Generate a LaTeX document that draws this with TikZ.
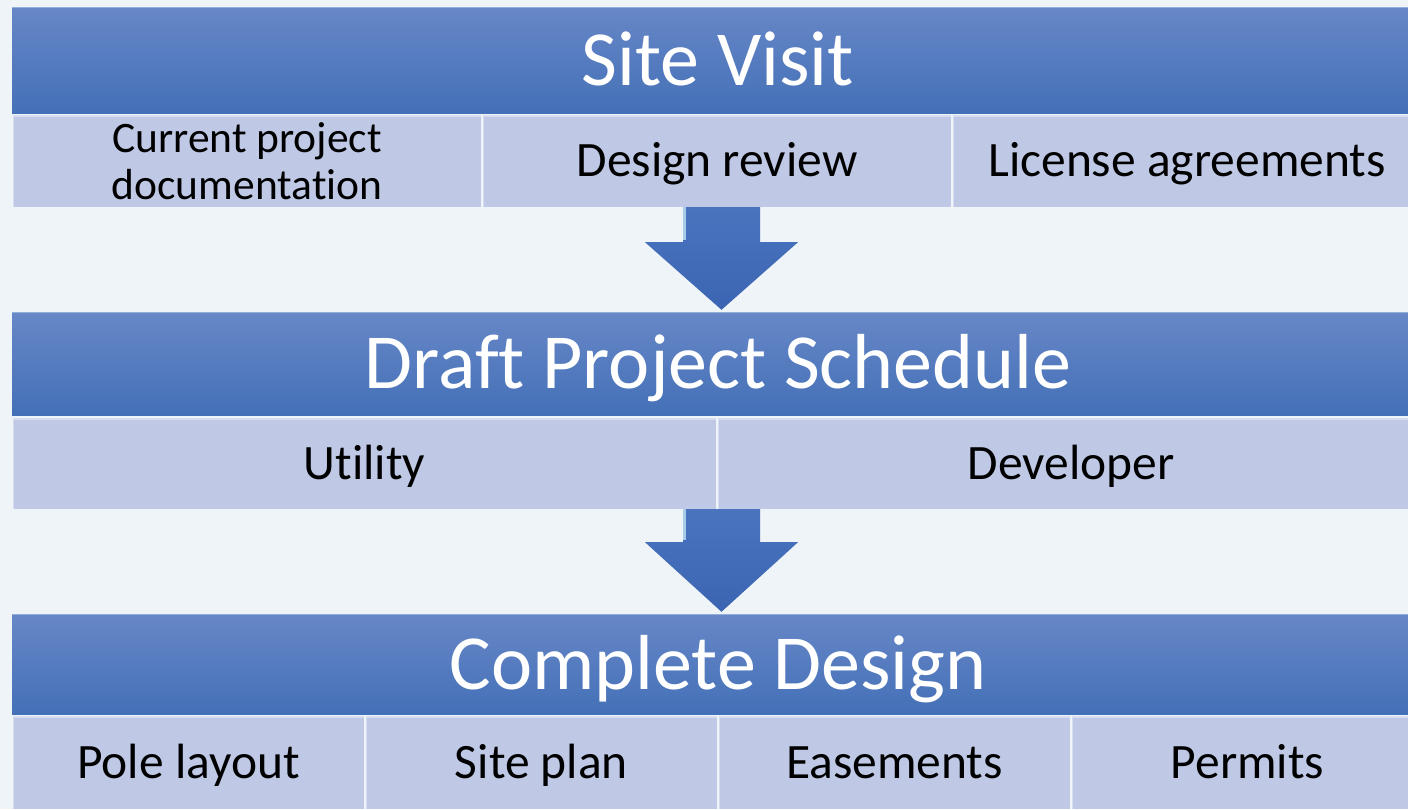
\documentclass[tikz,border=0pt]{standalone}
\usepackage{fontspec}
\setmainfont{Carlito}[Ligatures={NoCommon}, RawFeature={-liga;-clig;-dlig}]
\usetikzlibrary{calc}
\definecolor{bgc}{HTML}{EEF4F8}
\definecolor{hdtop}{HTML}{6787C7}
\definecolor{hdbot}{HTML}{4470B7}
\definecolor{hdhl}{HTML}{93AEDD}
\definecolor{cellc}{HTML}{BFC9E5}
\definecolor{cellhl}{HTML}{D6DDF0}
\definecolor{arrtop}{HTML}{4A74BE}
\definecolor{arrbot}{HTML}{3B65B2}
\definecolor{arrhl}{HTML}{A9CBEA}
\begin{document}
\begin{tikzpicture}[x=1pt,y=-1pt,
  header/.style={rectangle, draw=none, top color=hdtop, bottom color=hdbot,
    text=white, font=\fontsize{78}{90}\selectfont, text height=50pt, text depth=0pt,
    inner sep=0pt,
    path picture={\draw[hdhl, line width=2.5pt] (path picture bounding box.north west) -- (path picture bounding box.north east);}},
  cell/.style={rectangle, draw=none, fill=cellc, text=black,
    font=\fontsize{49.5}{56}\selectfont, text height=31pt, text depth=0pt, inner sep=0pt,
    path picture={\draw[cellhl, line width=3pt] (path picture bounding box.north west) -- (path picture bounding box.north east);
                  \draw[cellhl, line width=2pt] (path picture bounding box.north west) -- (path picture bounding box.south west);}},
  smallcell/.style={cell, font=\fontsize{43.5}{47}\selectfont, text height=, text depth=, align=center},
  flowarrow/.style={draw=none, top color=arrtop, bottom color=arrbot},
  arrowhl/.style={draw=arrhl, line width=2.5pt}]
\useasboundingbox (0,0) rectangle (1408,809);
\clip (0,0) rectangle (1408,809);
\fill[bgc] (0,0) rectangle (1408,809);

% Band 1
\node[header, minimum width=1412pt, minimum height=106pt] (sv) at (718,60) {Site Visit};
\node[smallcell, minimum width=468pt, minimum height=92pt] (c11) at (247,161) {Current project\\documentat\kern0pt ion};
\node[cell, minimum width=468pt, minimum height=92pt] (c12) at (717,161) {Design review};
\node[cell, minimum width=468pt, minimum height=92pt] (c13) at (1187,161) {License agreements};

% Band 2
\node[header, minimum width=1412pt, minimum height=103pt] (dps) at (718,363.5) {Draf\kern0pt t Project Schedule};
\node[cell, minimum width=703pt, minimum height=91pt] (c21) at (364.5,463.5) {Ut\kern0pt ility};
\node[cell, minimum width=706pt, minimum height=91pt] (c22) at (1071,463.5) {Developer};

% Band 3
\node[header, minimum width=1412pt, minimum height=100pt] (cd) at (718,664) {Complete Design};
\node[cell, minimum width=351pt, minimum height=93pt] (c31) at (188.5,762.5) {Pole layout};
\node[cell, minimum width=351pt, minimum height=93pt] (c32) at (541.5,762.5) {Site plan};
\node[cell, minimum width=351pt, minimum height=93pt] (c33) at (894.5,762.5) {Easements};
\node[cell, minimum width=351pt, minimum height=93pt] (c34) at (1247.5,762.5) {Permits};

% Arrows
\coordinate (a1s) at (c12.south -| 721.5,0);
\coordinate (a1t) at (dps.north -| 721.5,0);
\path[flowarrow] ($(a1s)+(-38.5,0)$) -- ($(a1s)+(38.5,0)$) -- ($(a1s)+(38.5,35)$) -- ($(a1s)+(76.5,35)$)
  -- ($(a1t)+(0,-2)$) -- ($(a1s)+(-76.5,35)$) -- ($(a1s)+(-38.5,35)$) -- cycle;
\draw[arrowhl] ($(a1s)+(-37,0)$) -- ($(a1s)+(-37,33)$);

\coordinate (a2s) at (c21.south -| 721.5,0);
\coordinate (a2t) at (cd.north -| 721.5,0);
\path[flowarrow] ($(a2s)+(-38.5,0)$) -- ($(a2s)+(38.5,0)$) -- ($(a2s)+(38.5,33)$) -- ($(a2s)+(76.5,33)$)
  -- ($(a2t)+(0,-2)$) -- ($(a2s)+(-76.5,33)$) -- ($(a2s)+(-38.5,33)$) -- cycle;
\draw[arrowhl] ($(a2s)+(-37,0)$) -- ($(a2s)+(-37,31)$);
\end{tikzpicture}
\end{document}
